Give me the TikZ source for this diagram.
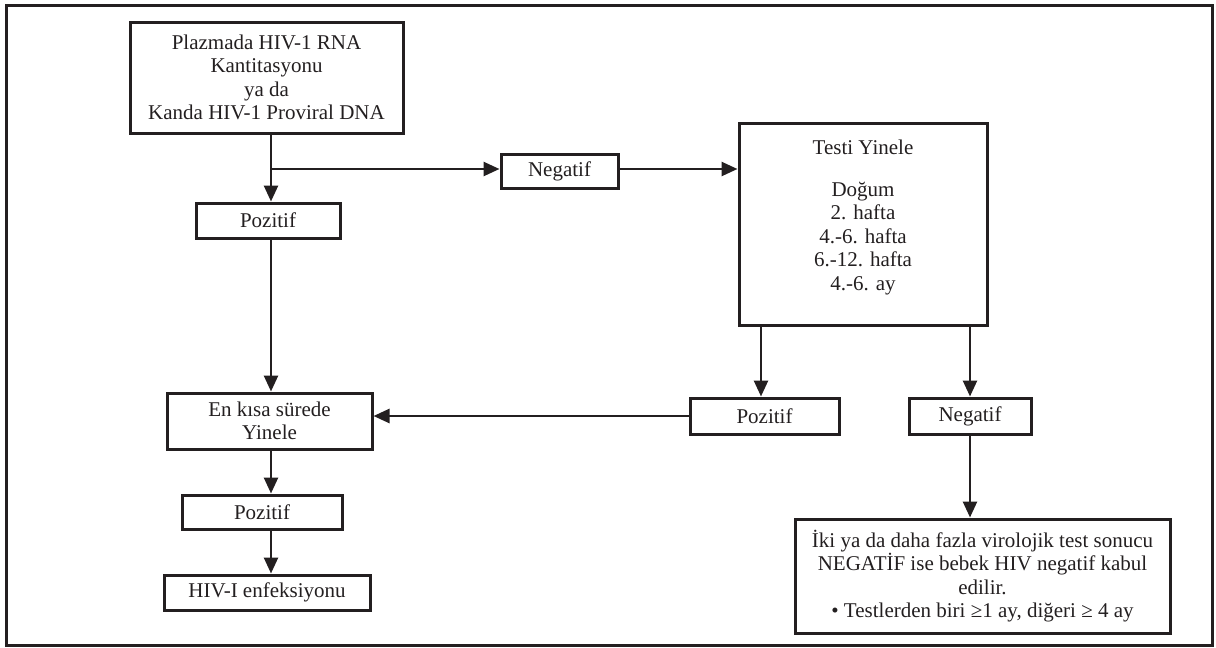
\documentclass[tikz,border=0pt]{standalone}
\usepackage{fontspec}
\setmainfont{Liberation Serif}
\usepackage{tikz}
\usetikzlibrary{calc, positioning, arrows.meta}
\definecolor{ink}{HTML}{231F20}

\begin{document}
\begin{tikzpicture}[x=1pt, y=-1pt,
    font=\fontsize{21}{23.5}\selectfont,
    box/.style={rectangle, draw=ink, line width=3pt, align=center, inner sep=0pt, text=ink},
    arr/.style={draw=ink, line width=2.6pt, -{Triangle[length=16pt, width=14pt]}},
    ]
    \useasboundingbox (0,0) rectangle (1216,648);
    \draw[ink, line width=3pt] (6,5) rectangle (1212,645);

    %Nodes
    \node[box, minimum width=273pt, minimum height=111pt] (plazma) at (266.5,77.5)
        {Plazmada HIV-1 RNA\\Kantitasyonu\\ya da\\Kanda HIV-1 Proviral DNA};
    \node[box, minimum width=144pt, minimum height=35pt]  (pozitif1) at (268,220.5) {Pozitif};
    \node[box, minimum width=117pt, minimum height=34pt]  (negatif1) at (559.5,171) {Negatif};
    \node[box, minimum width=248pt, minimum height=202pt] (testi) at (863,224)
        {\raisebox{6pt}[\height][\depth]{\begin{tabular}{@{}c@{}}Testi Yinele\\[18pt]Doğum\\2. hafta\\4.-6. hafta\\6.-12. hafta\\4.-6. ay\end{tabular}}};
    \node[box, minimum width=149pt, minimum height=36pt]  (pozitif2) at (764.5,416) {Pozitif};
    \node[box, minimum width=122pt, minimum height=36pt]  (negatif2) at (970,416) {Negatif};
    \node[box, minimum width=205pt, minimum height=56pt]  (enkisa) at (269.5,421) {En kısa sürede\\Yinele};
    \node[box, minimum width=160pt, minimum height=34pt]  (pozitif3) at (262,512) {Pozitif};
    \node[box, minimum width=206pt, minimum height=35pt]  (enfeksiyon) at (267,592.5) {HIV-I enfeksiyonu};
    \node[box, minimum width=375pt, minimum height=114pt] (sonuc) at (982.5,576)
        {İki ya da daha fazla virolojik test sonucu\\NEGATİF ise bebek HIV negatif kabul\\edilir.\\• Testlerden biri ≥1 ay, diğeri ≥ 4 ay};

    \coordinate (col) at (271,0);
    \coordinate (split) at (271,169);

    %Lines
    \draw[arr] (plazma.south -| col) -- (pozitif1.north -| col);
    \draw[arr] (split) -- (split -| negatif1.west);
    \draw[arr] (negatif1.east |- split) -- (testi.west |- split);
    \draw[arr] (testi.south -| 761,0) -- (pozitif2.north -| 761,0);
    \draw[arr] (testi.south -| negatif2.north) -- (negatif2.north);
    \draw[arr] (pozitif2.west) -- (pozitif2.west -| enkisa.east);
    \draw[arr] (pozitif1.south -| col) -- (enkisa.north -| col);
    \draw[arr] (enkisa.south -| col) -- (pozitif3.north -| col);
    \draw[arr] (pozitif3.south -| col) -- (enfeksiyon.north -| col);
    \draw[arr] (negatif2.south) -- (negatif2.south |- sonuc.north);
\end{tikzpicture}
\end{document}
